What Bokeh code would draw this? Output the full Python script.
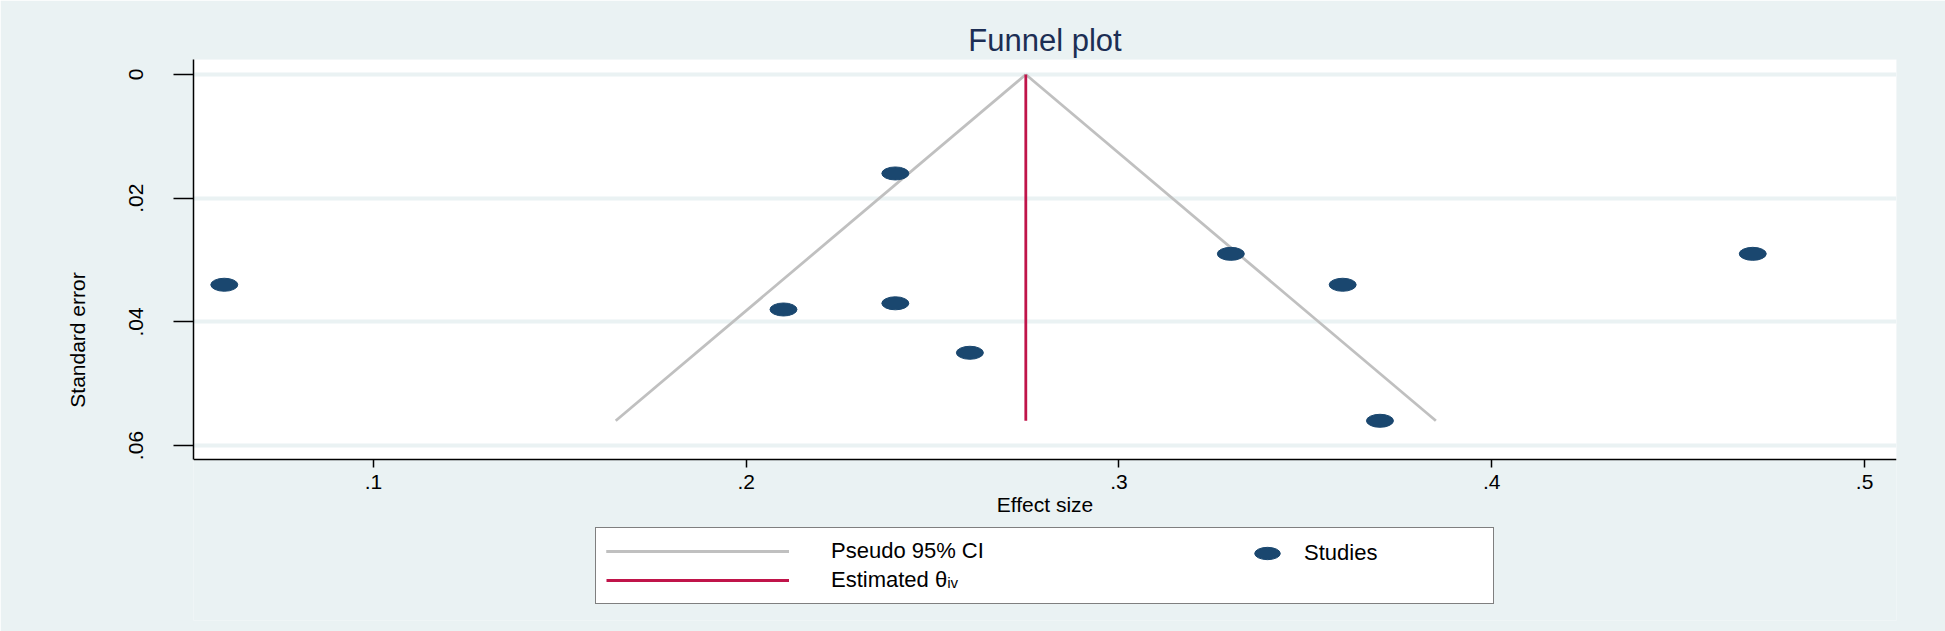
from bokeh.plotting import figure
from bokeh.models import Range1d, FixedTicker, Legend, LegendItem, BoxAnnotation
from bokeh.embed import file_html
from bokeh.resources import INLINE

# ---- data ----
studies_es = [0.06, 0.24, 0.21, 0.24, 0.26, 0.33, 0.36, 0.37, 0.47]
studies_se = [0.034, 0.016, 0.038, 0.037, 0.045, 0.029, 0.034, 0.056, 0.029]

ci_se = [0.0, 0.056]
ci_lower = [0.275, 0.165]
ci_upper = [0.275, 0.385]

est_x = [0.275, 0.275]
est_se = [0.0, 0.056]

x_ticks = [0.1, 0.2, 0.3, 0.4, 0.5]
x_tick_labels = [".1", ".2", ".3", ".4", ".5"]
y_ticks = [0.0, 0.02, 0.04, 0.06]
y_tick_labels = ["0", ".02", ".04", ".06"]

# visible data window of the plot region
X_LO, X_HI = 0.05174, 0.50856
Y_TOP, Y_BOT = -0.00243, 0.06231

BG = "#eaf2f3"
NAVY = "#1a476f"
GRAY = "#c0c0c0"
RED = "#c0144a"
TITLE_C = "#1c2e54"
FONT = "Liberation Sans"

# the frame extends below the data window so that the legend box fits inside it
p = figure(width=1945, height=631, output_backend="svg", toolbar_location=None,
           x_range=Range1d(X_LO, X_HI), y_range=Range1d(0.0883, Y_TOP),
           min_border_left=193, min_border_right=49, min_border_top=59,
           min_border_bottom=11,
           background_fill_color=BG, border_fill_color=BG,
           outline_line_color=None)

# white plotting region
p.add_layout(BoxAnnotation(top=Y_TOP, bottom=Y_BOT, fill_color="white", fill_alpha=1.0,
                           line_color=None, level="image"))

p.title.text = "Funnel plot"
p.title.align = "center"
p.title.text_font = FONT
p.title.text_font_size = "31px"
p.title.text_font_style = "normal"
p.title.text_color = TITLE_C
p.title.standoff = 3

# grid
p.xgrid.visible = False
p.ygrid.ticker = FixedTicker(ticks=y_ticks)
p.ygrid.grid_line_color = BG
p.ygrid.grid_line_width = 4

# axes
for ax in (p.xaxis[0], p.yaxis[0]):
    ax.axis_line_color = "black"
    ax.axis_line_width = 1.5
    ax.major_tick_line_color = "black"
    ax.major_tick_line_width = 1.5
    ax.major_tick_in = 0
    ax.minor_tick_line_color = None
    ax.major_label_text_font = FONT
    ax.major_label_text_font_size = "21px"
    ax.major_label_text_color = "black"
    ax.axis_label_text_font = FONT
    ax.axis_label_text_font_size = "21px"
    ax.axis_label_text_font_style = "normal"
    ax.axis_label_text_color = "black"

xa = p.xaxis[0]
xa.ticker = FixedTicker(ticks=x_ticks)
xa.major_label_overrides = dict(zip(x_ticks, x_tick_labels))
xa.axis_label = "Effect size"
xa.fixed_location = Y_BOT
xa.major_tick_out = 8
xa.major_label_standoff = 7
xa.axis_label_standoff = 1

ya = p.yaxis[0]
ya.ticker = FixedTicker(ticks=y_ticks)
ya.major_label_overrides = dict(zip(y_ticks, y_tick_labels))
ya.major_label_orientation = "vertical"
ya.axis_label = "Standard error"
ya.bounds = (Y_TOP, Y_BOT)
ya.major_tick_out = 20
ya.major_label_standoff = 30
ya.axis_label_standoff = 38

# glyphs
ci_l = p.line(ci_lower, ci_se, line_color=GRAY, line_width=2.8)
ci_u = p.line(ci_upper, ci_se, line_color=GRAY, line_width=2.8)
est = p.line(est_x, est_se, line_color=RED, line_width=2.8)
dots = p.ellipse(x=studies_es, y=studies_se, width=27, height=13,
                 width_units="screen", height_units="screen",
                 fill_color=NAVY, line_color=NAVY)

legA = Legend(items=[LegendItem(label="Pseudo 95% CI", renderers=[ci_l, ci_u]),
                     LegendItem(label="Estimated \u03b8\u1d62\u1d65", renderers=[est])],
              location=(402, 16), orientation="vertical",
              border_line_color="black", border_line_width=1.5,
              background_fill_color="white", background_fill_alpha=1.0,
              padding=10, spacing=3, margin=0,
              glyph_width=183, glyph_height=20, label_standoff=42, label_width=652,
              label_text_font=FONT, label_text_font_size="22px", label_text_color="black")
legB = Legend(items=[LegendItem(label="Studies", renderers=[dots])],
              location=(1058, 51), orientation="vertical",
              border_line_color=None, background_fill_alpha=0.0,
              padding=0, spacing=0, margin=0,
              glyph_width=32, glyph_height=32, label_standoff=21,
              label_text_font=FONT, label_text_font_size="22px", label_text_color="black")
p.add_layout(legA, "center")
p.add_layout(legB, "center")

open("out.html", "w").write(file_html(p, INLINE))
